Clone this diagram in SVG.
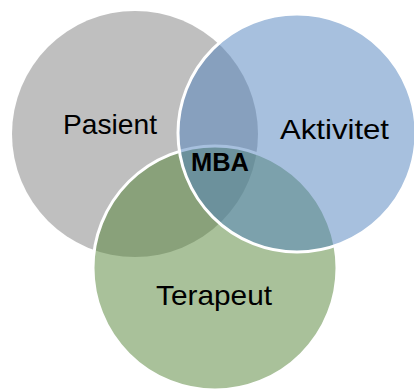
<svg xmlns="http://www.w3.org/2000/svg" width="414" height="390" viewBox="0 0 414 390">
  <style>
    .lbl { font-family: "Liberation Sans", Arial, sans-serif; font-size: 28px; fill: #000; text-anchor: middle; }
    .mba { font-family: "Liberation Sans", Arial, sans-serif; font-size: 25px; font-weight: bold; fill: #000; text-anchor: middle; }
  </style>
  <rect width="414" height="390" fill="#ffffff"/>
  <g id="pasient">
    <circle cx="135" cy="134" r="123" fill="#7F7F7F" fill-opacity="0.5"/>
  </g>
  <g id="terapeut">
    <circle cx="215" cy="268" r="122" fill="#538335" fill-opacity="0.5" stroke="#ffffff" stroke-width="3"/>
  </g>
  <g id="aktivitet">
    <circle cx="297" cy="133" r="119" fill="#4F81BD" fill-opacity="0.5" stroke="#ffffff" stroke-width="3"/>
  </g>
  <g id="labels">
    <text class="lbl" x="110" y="134" textLength="94" lengthAdjust="spacingAndGlyphs">Pasient</text>
    <text class="lbl" x="334.5" y="139" textLength="109" lengthAdjust="spacingAndGlyphs">Aktivitet</text>
    <text class="lbl" x="214" y="305" textLength="116" lengthAdjust="spacingAndGlyphs">Terapeut</text>
    <text class="mba" x="220" y="171" textLength="58" lengthAdjust="spacingAndGlyphs">MBA</text>
  </g>
</svg>
